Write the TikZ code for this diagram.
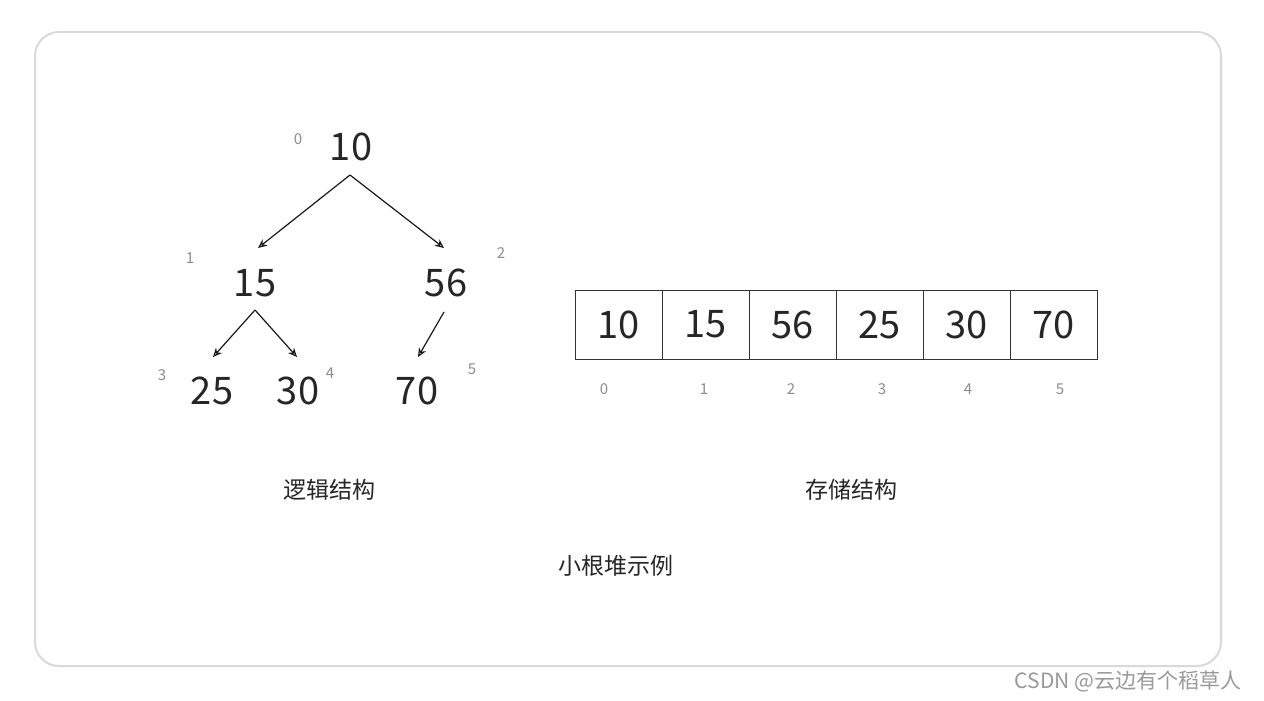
\documentclass[tikz,border=0pt]{standalone}
\usepackage{fontspec}
\setmainfont{Noto Sans CJK SC}
\usetikzlibrary{arrows.meta}
\begin{document}
\begin{tikzpicture}[x=1pt,y=-1pt,
  big/.style={font=\fontsize{38}{40}\selectfont, text=black!85},
  idx/.style={font=\fontsize{15}{16}\selectfont, text=black!45},
  captext/.style={font=\fontsize{23}{25}\selectfont, text=black!85},
  arr/.style={-{Stealth[length=9pt,width=8pt,open]}, line width=1.2pt, black!90},
  cell/.style={draw=black!80, line width=0.8pt, minimum width=87pt, minimum height=69pt, inner sep=0pt, font=\fontsize{38}{40}\selectfont, text=black!85}]
\useasboundingbox (0,0) rectangle (1264,701);
\fill[white] (0,0) rectangle (1264,701);
\draw[black!15, line width=2pt, rounded corners=24pt] (35,32) rectangle (1221,666);
\node[big] (n0) at (351,147) {10};
\node[big] (n1) at (255,283) {15};
\node[big] (n2) at (446,283) {56};
\node[big] (n3) at (212,391) {25};
\node[big] (n4) at (298,391) {30};
\node[big] (n5) at (417,391) {70};
\node[idx] (i0) at (298,139) {0};
\node[idx] (i1) at (190,258) {1};
\node[idx] (i2) at (501,253) {2};
\node[idx] (i3) at (162,375) {3};
\node[idx] (i4) at (330,373) {4};
\node[idx] (i5) at (472,369) {5};
\coordinate (a0) at (350,175); \coordinate (b1) at (258,248); \coordinate (b2) at (444,248);
\coordinate (a1) at (255,310); \coordinate (b3) at (213,357); \coordinate (b4) at (297,357);
\coordinate (a2) at (444,312); \coordinate (b5) at (418,357);
\draw[arr] (a0) -- (b1);
\draw[arr] (a0) -- (b2);
\draw[arr] (a1) -- (b3);
\draw[arr] (a1) -- (b4);
\draw[arr] (a2) -- (b5);
\foreach \v/\i in {10/0,15/1,56/2,25/3,30/4,70/5}{
  \node[cell] (c\i) at (618.5+87*\i,324.5) {\v};
}
\foreach \x/\i in {604/0,704/1,791/2,882/3,968/4,1060/5}{
  \node[idx] (j\i) at (\x,389) {\i};
}
\node[captext] (t1) at (329,490) {逻辑结构};
\node[captext] (t2) at (851,490) {存储结构};
\node[captext] (t3) at (616,566) {小根堆示例};
\node[font=\fontsize{21}{22}\selectfont, text=black!40] (w) at (1128,681) {CSDN @云边有个稻草人};
\end{tikzpicture}
\end{document}
